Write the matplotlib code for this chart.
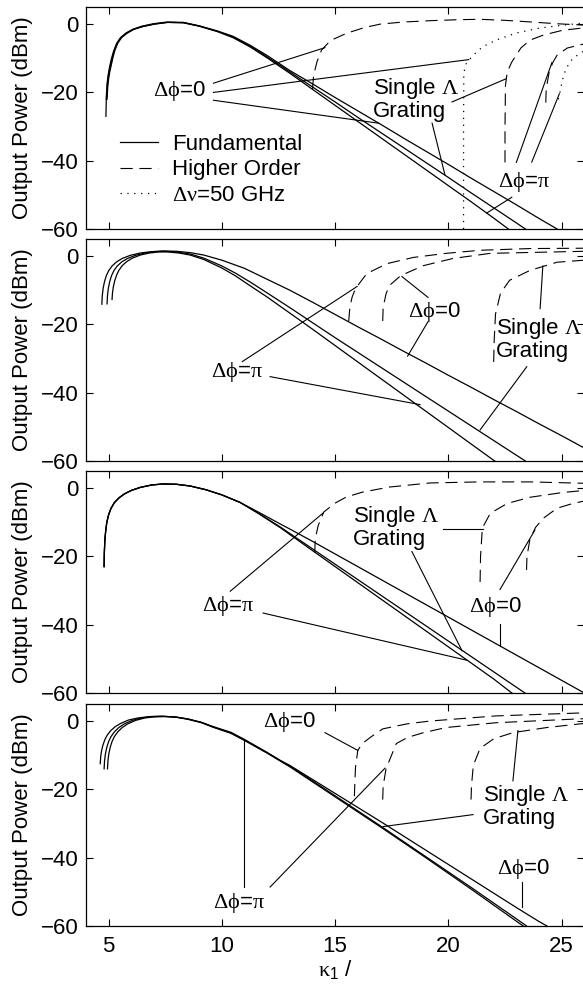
import matplotlib
matplotlib.use("Agg")
import matplotlib.pyplot as plt
from matplotlib.lines import Line2D

plt.rcParams['font.family'] = ['Liberation Sans', 'DejaVu Sans']
plt.rcParams['font.size'] = 16
plt.rcParams['mathtext.fontset'] = 'custom'
plt.rcParams['mathtext.rm'] = 'Liberation Serif'
plt.rcParams['mathtext.sf'] = 'Liberation Sans'
plt.rcParams['mathtext.it'] = 'Liberation Serif:italic'

# ---------------- data ----------------
# panel 1 : fundamental (solid)
p1_pi_x = [4.93, 4.96, 5.0, 5.05, 5.11, 5.19, 5.28, 5.41, 5.58, 5.83, 6.13, 6.53, 7.03, 7.6, 8.3, 9.0, 9.8,
           10.5, 11.25, 12, 13, 14, 15, 16, 17, 18, 19, 20, 21, 22, 22.65]
p1_pi_y = [-22, -18.5, -16, -14, -12.2, -9.8, -7.6, -5.5, -3.9, -2.6, -1.5, -0.7, 0.0, 0.5, 0.4, -0.6, -2.2,
           -4.0, -6.7, -9.9, -14.4, -19.1, -23.8, -28.5, -33.2, -37.9, -42.6, -47.3, -52.0, -56.8, -60]
p1_single_x = [4.9, 4.93, 4.97, 5.02, 5.08, 5.16, 5.25, 5.38, 5.55, 5.8, 6.1, 6.5, 7.0, 7.6, 8.3, 9.0, 9.8,
               10.5, 11.25, 12, 13, 14, 15, 16, 17, 18, 19, 20, 21, 22, 23, 23.4]
p1_single_y = [-22, -18.5, -16, -14, -12.2, -9.8, -7.6, -5.5, -3.9, -2.6, -1.5, -0.7, 0.0, 0.5, 0.4, -0.6, -2.1,
               -3.8, -6.5, -9.6, -14.0, -18.4, -22.8, -27.3, -31.7, -36.1, -40.5, -44.9, -49.4, -53.8, -58.2, -60]
p1_zero_x = [4.88, 4.9, 4.93, 4.98, 5.04, 5.12, 5.22, 5.35, 5.52, 5.77, 6.07, 6.47, 6.97, 7.57, 8.3, 9.0, 9.8,
             10.5, 11.25, 12, 13, 14, 15, 16, 17, 18, 19, 20, 21, 22, 23, 24, 24.8]
p1_zero_y = [-27, -21, -17.5, -14.8, -12.6, -10.2, -7.9, -5.7, -4.0, -2.6, -1.5, -0.6, 0.1, 0.6, 0.5, -0.5, -2.0,
             -3.6, -6.2, -9.2, -13.6, -17.5, -21.5, -25.4, -29.3, -33.3, -37.2, -41.1, -45.1, -49.0, -52.9, -56.9, -60]
# panel 1 : higher order (dashed) and delta nu = 50 GHz (dotted)
p1_ho_zero_x = [14.0, 14.05, 14.2, 14.4, 14.8, 15.5, 16.3, 17.0, 18.0, 19.2, 20.5, 21.4, 22.5, 23.7, 24.8, 26.0]
p1_ho_zero_y = [-19, -15, -11, -7.6, -4.8, -2.7, -1.0, 0.0, 0.6, 1.0, 1.3, 1.4, 1.1, 0.6, 0.1, -0.3]
p1_ho_single_x = [22.5, 22.5, 22.52, 22.6, 22.8, 23.2, 23.6, 24.2, 25.05, 26.0]
p1_ho_single_y = [-40.5, -30, -18, -14, -11.1, -7.0, -4.7, -3.2, -1.8, -1.1]
p1_ho_pi_x = [24.3, 24.32, 24.45, 24.6, 24.8, 25.25, 25.8, 26.0]
p1_ho_pi_y = [-23, -19, -14, -11.4, -9.1, -7.0, -6.1, -5.8]
p1_dnu_a_x = [20.67, 20.67, 20.68, 20.72, 20.8, 21.1, 21.5, 22.1, 23.0, 24.0, 25.05, 26.0]
p1_dnu_a_y = [-60, -30, -15, -12.9, -11.4, -9.1, -6.7, -4.7, -2.6, -1.2, -0.3, 0.3]
p1_dnu_b_x = [24.85, 24.9, 25.05, 25.2, 25.5, 25.9, 26.0]
p1_dnu_b_y = [-22, -20.8, -16, -12.9, -10.0, -8.2, -7.9]

# panel 2
p2_zero_x = [4.7, 4.72, 4.76, 4.82, 4.9, 5.0, 5.15, 5.35, 5.6, 5.95, 6.4, 6.9, 7.4, 8.0, 8.6, 9.2, 10, 11, 12,
             13, 14, 15, 16, 17, 18, 19, 20, 21, 22, 23, 24, 25, 26]
p2_zero_y = [-14.1, -11.5, -9.3, -7.4, -5.7, -4.3, -2.9, -1.7, -0.7, 0.2, 0.9, 1.3, 1.5, 1.4, 1.0, 0.3, -1.2, -3.6,
             -6.8, -10.0, -13.5, -17.1, -20.7, -24.2, -27.8, -31.3, -34.9, -38.4, -42.0, -45.5, -49.1, -52.6, -56.2]
p2_single_x = [4.93, 4.95, 4.99, 5.05, 5.13, 5.23, 5.38, 5.58, 5.83, 6.18, 6.6, 7.05, 7.5, 8.0, 8.6, 9.2, 10,
               10.6, 11.25, 12, 13, 14, 15, 16, 17, 18, 19, 20, 21, 22, 23, 23.4]
p2_single_y = [-14, -11.5, -9.3, -7.4, -5.7, -4.3, -2.9, -1.7, -0.7, 0.2, 0.9, 1.3, 1.4, 1.2, 0.6, -0.6, -2.9,
               -5.0, -7.6, -10.8, -15.1, -19.5, -23.9, -28.2, -32.5, -36.8, -41.1, -45.4, -49.7, -54.0, -58.3, -60]
p2_pi_x = [5.15, 5.17, 5.21, 5.27, 5.35, 5.45, 5.6, 5.8, 6.05, 6.4, 6.8, 7.2, 7.6, 8.1, 8.6, 9.2, 10, 10.6,
           11.25, 12, 13, 14, 15, 16, 17, 18, 19, 20, 21, 22, 22.05]
p2_pi_y = [-12.7, -10.8, -8.9, -7.2, -5.6, -4.2, -2.8, -1.6, -0.6, 0.3, 0.9, 1.2, 1.2, 0.9, 0.3, -1.0, -3.5, -5.8,
           -8.7, -12.0, -16.7, -21.4, -26.2, -31.0, -35.8, -40.6, -45.4, -50.2, -55.0, -59.8, -60]
p2_ho_pi_x = [15.6, 15.65, 15.75, 15.9, 16.4, 17.3, 18.45, 19.9, 21.4, 23.6, 26.0]
p2_ho_pi_y = [-19, -15, -12, -9.5, -5.1, -2.2, -0.4, 0.8, 1.7, 2.2, 2.3]
p2_ho_zero_x = [17.1, 17.12, 17.25, 17.4, 17.9, 18.9, 20.2, 21.85, 23.9, 26.0]
p2_ho_zero_y = [-19, -15, -11, -8.6, -5.7, -2.8, -0.7, 0.8, 1.1, 1.4]
p2_ho_single_x = [22.0, 22.02, 22.08, 22.3, 22.7, 23.6, 24.8, 26.0]
p2_ho_single_y = [-31, -25, -17, -10.9, -7.1, -4.2, -1.8, -1.2]

# panel 3
p3_rise_x = [4.8, 4.81, 4.83, 4.87, 4.92, 5.0, 5.1, 5.25, 5.45, 5.7, 6.0, 6.4, 6.9, 7.4, 8.0, 8.6, 9.3, 10, 10.8]
p3_rise_y = [-23, -19, -15.5, -12.5, -10, -7.8, -6.0, -4.3, -2.9, -1.7, -0.7, 0.2, 0.9, 1.2, 1.1, 0.6, -0.5, -2.0,
             -4.2]
p3_zero_x = [11.6, 12.6, 13, 14, 15, 16, 17, 18, 19, 20, 21, 22, 23, 24, 25, 26]
p3_zero_y = [-7.0, -10.6, -12.0, -15.6, -19.3, -23.0, -26.7, -30.4, -34.1, -37.8, -41.5, -45.2, -48.9, -52.6,
             -56.3, -60]
p3_pi_x = [11.6, 12.6, 13, 14, 15, 16, 17, 18, 19, 20, 21, 22, 22.8]
p3_pi_y = [-7.4, -11.7, -13.6, -18.3, -23.0, -27.7, -32.4, -37.1, -41.8, -46.5, -51.2, -55.9, -60]
p3_single_x = [11.6, 12.6, 13, 14, 15, 16, 17, 18, 19, 20, 21, 22, 23, 23.38]
p3_single_y = [-7.3, -11.5, -13.3, -17.8, -22.3, -26.8, -31.3, -35.8, -40.3, -44.8, -49.3, -53.8, -58.3, -60]
p3_ho_pi_x = [14.1, 14.12, 14.25, 14.5, 15.0, 15.5, 16.2, 17.4, 19.2, 21.4, 23.6, 26.0]
p3_ho_pi_y = [-19, -15, -11, -7.0, -4.4, -2.6, -1.2, 0.3, 1.5, 1.8, 1.8, 1.4]
p3_ho_single_x = [21.4, 21.42, 21.5, 21.85, 22.6, 23.6, 25.05, 26.0]
p3_ho_single_y = [-27.5, -20, -11.7, -7.4, -4.5, -2.7, -1.3, -0.7]
p3_ho_zero_x = [23.45, 23.47, 23.6, 23.85, 24.2, 24.8, 25.5, 26.0]
p3_ho_zero_y = [-24, -20, -15, -11.5, -8.8, -5.9, -4.5, -3.8]

# panel 4
p4_zero_x = [4.63, 4.65, 4.69, 4.75, 4.83, 4.93, 5.08, 5.28, 5.53, 5.88, 6.3, 6.8, 7.3, 7.9, 8.5, 9.1, 9.6, 10.4,
             11, 12, 12.6, 13, 14, 15, 16, 17, 18, 19, 20, 21, 22, 23, 24, 24.35]
p4_zero_y = [-12.5, -10.4, -8.6, -7.0, -5.5, -4.2, -2.9, -1.7, -0.7, 0.3, 0.9, 1.3, 1.4, 1.2, 0.6, -0.4, -1.6,
             -3.3, -5.4, -9.2, -11.6, -13.0, -17.1, -21.2, -25.3, -29.4, -33.6, -37.8, -42.0, -46.2, -50.4, -54.6,
             -58.7, -60]
p4_single_x = [4.8, 4.82, 4.86, 4.92, 5.0, 5.1, 5.25, 5.45, 5.7, 6.05, 6.45, 6.9, 7.4, 7.95, 8.5, 9.1, 9.6, 10.4,
               11, 12, 12.6, 13, 14, 15, 16, 17, 18, 19, 20, 21, 22, 23, 23.45]
p4_single_y = [-14, -11.6, -9.5, -7.7, -6.0, -4.6, -3.2, -1.9, -0.8, 0.2, 0.9, 1.3, 1.4, 1.2, 0.6, -0.4, -1.7,
               -3.5, -5.6, -9.3, -11.7, -13.2, -17.5, -21.9, -26.3, -30.7, -35.2, -39.7, -44.2, -48.7, -53.3, -57.9,
               -60]
p4_pi_x = [4.95, 4.97, 5.01, 5.07, 5.15, 5.25, 5.4, 5.6, 5.85, 6.2, 6.6, 7.0, 7.5, 8.0, 8.5, 9.1, 9.6, 10.4,
           11, 12, 12.6, 13, 14, 15, 16, 17, 18, 19, 20, 21, 22, 23, 23.3]
p4_pi_y = [-14, -11.6, -9.5, -7.7, -6.0, -4.6, -3.2, -1.9, -0.8, 0.2, 0.9, 1.2, 1.3, 1.1, 0.5, -0.5, -1.8,
           -3.6, -5.7, -9.4, -11.8, -13.4, -17.8, -22.2, -26.6, -31.0, -35.5, -40.0, -44.6, -49.2, -53.9, -58.6, -60]
p4_ho_zero_x = [15.85, 15.87, 15.9, 16.0, 16.2, 16.55, 17.1, 18.2, 19.2, 22.1, 26.0]
p4_ho_zero_y = [-22, -18, -13.5, -8.6, -6.6, -4.8, -2.3, -0.8, 0.0, 1.5, 2.4]
p4_ho_pi_x = [17.1, 17.12, 17.25, 17.7, 18.2, 18.9, 19.9, 22.1, 26.0]
p4_ho_pi_y = [-23, -19, -13.9, -6.6, -4.8, -3.4, -1.9, -0.5, 0.7]
p4_ho_single_x = [21.0, 21.02, 21.1, 21.4, 22.0, 22.85, 24.35, 26.0]
p4_ho_single_y = [-23, -19, -13, -8.0, -5.2, -3.4, -1.9, -0.7]

y_ticks = [0, -20, -40, -60]
x_ticks = [5, 10, 15, 20, 25]
legend_labels = ['Fundamental', 'Higher Order', r'$\mathrm{\Delta\nu}$=50 GHz']

# ---------------- styles ----------------
solid = dict(color='k', lw=0.9, ls='-')
dashed = dict(color='k', lw=0.8, ls=(0, (11, 6)))
dotted = dict(color='k', lw=0.9, ls=(0, (1, 4.5)))
ptr = dict(color='k', lw=0.8)
DPHI0 = r'$\mathrm{\Delta\phi}$=0'
DPHIPI = r'$\mathrm{\Delta\phi}$=$\mathrm{\pi}$'
SINGLE = 'Single $\\mathrm{\\Lambda}$\nGrating'

fig = plt.figure(figsize=(5.83, 9.88), dpi=100)
left, width, height = 0.1475, 0.8547, 0.2247
bottoms = [0.7682, 0.5334, 0.2986, 0.0628]
axes = [fig.add_axes([left, b, width, height]) for b in bottoms]

for i, ax in enumerate(axes):
    ax.set_xlim(4, 26)
    ax.set_ylim(-60, 5)
    ax.set_yticks(y_ticks)
    ax.set_xticks(x_ticks)
    ax.tick_params(direction='in', top=True, right=True, length=5, width=0.8, pad=5.5)
    ax.tick_params(axis='x', pad=7)
    for s in ax.spines.values():
        s.set_linewidth(0.9)
    ax.set_ylabel('Output Power (dBm)')
    ax.yaxis.set_label_coords(-0.106, 0.5)
    if i < 3:
        ax.set_xticklabels([])

# ---- panel 1
ax = axes[0]
ax.plot(p1_pi_x, p1_pi_y, **solid)
ax.plot(p1_single_x, p1_single_y, **solid)
ax.plot(p1_zero_x, p1_zero_y, **solid)
ax.plot(p1_ho_zero_x, p1_ho_zero_y, **dashed)
ax.plot(p1_ho_single_x, p1_ho_single_y, **dashed)
ax.plot(p1_ho_pi_x, p1_ho_pi_y, **dashed)
ax.plot(p1_dnu_a_x, p1_dnu_a_y, **dotted)
ax.plot(p1_dnu_b_x, p1_dnu_b_y, **dotted)
ax.text(8.1, -19.6, DPHI0, ha='center', va='center')
ax.plot([9.63, 14.55], [-17.3, -6.9], **ptr)
ax.plot([9.63, 20.9], [-20.0, -10.4], **ptr)
ax.plot([9.63, 16.9], [-22.3, -29.0], **ptr)
ax.text(16.67, -22, SINGLE, ha='left', va='center', linespacing=1.0)
ax.plot([20.16, 22.55], [-22.8, -16.0], **ptr)
ax.plot([19.28, 19.85], [-29.0, -44.2], **ptr)
ax.text(23.34, -46.1, DPHIPI, ha='center', va='center')
ax.plot([23.0, 24.57], [-40.5, -11.3], **ptr)
ax.plot([23.68, 24.9], [-40.4, -20.4], **ptr)
ax.plot([22.8, 21.7], [-50.7, -55.3], **ptr)
handles = [Line2D([], [], **solid), Line2D([], [], **dashed), Line2D([], [], **dotted)]
ax.legend(handles, legend_labels, loc='upper left', bbox_to_anchor=(0.068, 0.428), frameon=False,
          handlelength=1.7, handletextpad=0.65, labelspacing=0.2, borderpad=0, borderaxespad=0)

# ---- panel 2
ax = axes[1]
ax.plot(p2_zero_x, p2_zero_y, **solid)
ax.plot(p2_single_x, p2_single_y, **solid)
ax.plot(p2_pi_x, p2_pi_y, **solid)
ax.plot(p2_ho_pi_x, p2_ho_pi_y, **dashed)
ax.plot(p2_ho_zero_x, p2_ho_zero_y, **dashed)
ax.plot(p2_ho_single_x, p2_ho_single_y, **dashed)
ax.text(10.67, -33.9, DPHIPI, ha='center', va='center')
ax.plot([10.9, 15.97], [-30.9, -8.9], **ptr)
ax.plot([12.13, 18.75], [-35.3, -43.5], **ptr)
ax.text(19.37, -16.5, DPHI0, ha='center', va='center')
ax.plot([19.1, 17.95], [-12.1, -6.0], **ptr)
ax.plot([19.1, 18.2], [-19.2, -29.3], **ptr)
ax.text(22.1, -24.2, SINGLE, ha='left', va='center', linespacing=1.0)
ax.plot([24.05, 24.17], [-15.4, -2.9], **ptr)
ax.plot([23.46, 21.4], [-32.4, -50.9], **ptr)

# ---- panel 3
ax = axes[2]
for tx, ty in [(p3_zero_x, p3_zero_y), (p3_pi_x, p3_pi_y), (p3_single_x, p3_single_y)]:
    ax.plot(p3_rise_x + tx, p3_rise_y + ty, **solid)
ax.plot(p3_ho_pi_x, p3_ho_pi_y, **dashed)
ax.plot(p3_ho_single_x, p3_ho_single_y, **dashed)
ax.plot(p3_ho_zero_x, p3_ho_zero_y, **dashed)
ax.text(10.28, -34.6, DPHIPI, ha='center', va='center')
ax.plot([10.37, 14.47], [-30.2, -7.3], **ptr)
ax.plot([11.82, 20.81], [-36.6, -50.4], **ptr)
ax.text(15.79, -11.4, SINGLE, ha='left', va='center', linespacing=1.0)
ax.plot([19.76, 21.52], [-12.0, -12.0], **ptr)
ax.plot([18.39, 20.6], [-18.6, -47.6], **ptr)
ax.text(22.06, -34.9, DPHI0, ha='center', va='center')
ax.plot([22.28, 23.82], [-29.7, -12.3], **ptr)
ax.plot([22.28, 22.28], [-39.8, -46.2], **ptr)

# ---- panel 4
ax = axes[3]
ax.plot(p4_zero_x, p4_zero_y, **solid)
ax.plot(p4_single_x, p4_single_y, **solid)
ax.plot(p4_pi_x, p4_pi_y, **solid)
ax.plot(p4_ho_zero_x, p4_ho_zero_y, **dashed)
ax.plot(p4_ho_pi_x, p4_ho_pi_y, **dashed)
ax.plot(p4_ho_single_x, p4_ho_single_y, **dashed)
ax.text(12.97, -0.2, DPHI0, ha='center', va='center')
ax.plot([14.55, 16.0], [-3.4, -8.6], **ptr)
ax.text(10.77, -53.2, DPHIPI, ha='center', va='center')
ax.plot([10.99, 10.99], [-48.6, -5.7], **ptr)
ax.plot([12.13, 17.2], [-48.6, -13.8], **ptr)
ax.text(21.53, -25.0, SINGLE, ha='left', va='center', linespacing=1.0)
ax.plot([22.85, 23.07], [-17.5, -2.8], **ptr)
ax.plot([21.09, 17.12], [-27.4, -30.9], **ptr)
ax.text(23.29, -43.3, DPHI0, ha='center', va='center')
ax.plot([23.25, 23.25], [-47.1, -54.4], **ptr)
ax.set_xticklabels([str(t) for t in x_ticks])
ax.set_xlabel(r'$\mathrm{\kappa}_{\mathsf{1}}$ /', labelpad=1)

fig.savefig('out.png', dpi=100)
